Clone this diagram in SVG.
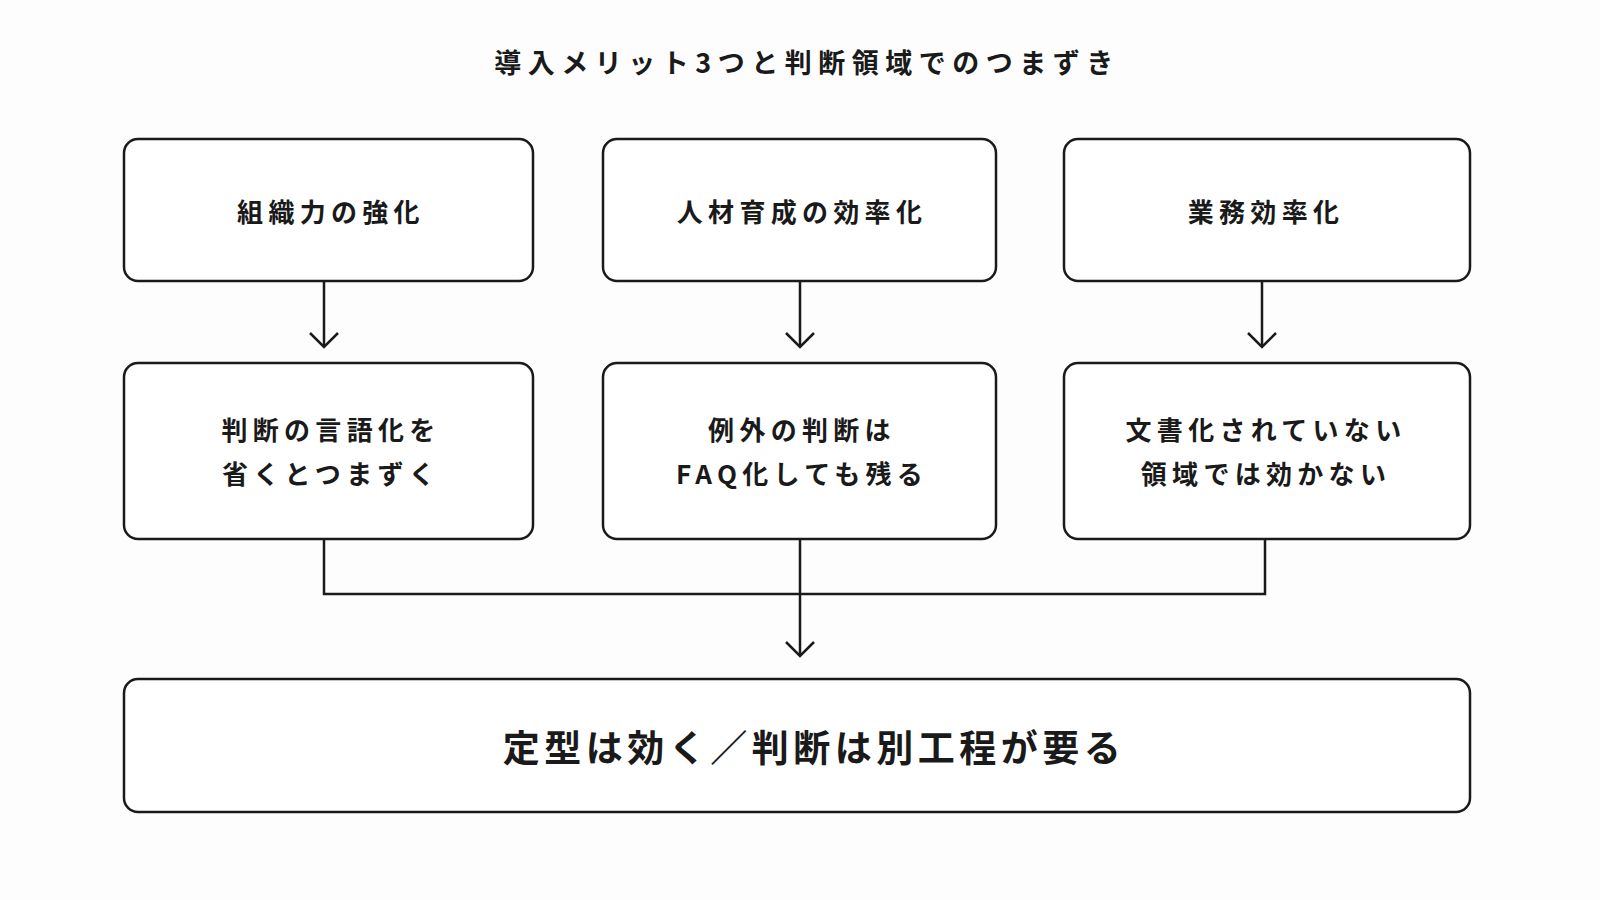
<svg xmlns="http://www.w3.org/2000/svg" width="1600" height="900" viewBox="0 0 1600 900">
<defs>
<style>
.box{fill:#ffffff;stroke:#1a1a1a;stroke-width:2.5}
.t{font-family:"Noto Sans CJK JP","Noto Sans",sans-serif;fill:#1a1a1a;text-anchor:middle;dominant-baseline:central}
.title{font-size:27px;font-weight:700;letter-spacing:6.5px}
.lbl{font-size:26px;font-weight:700;letter-spacing:5.3px}
.big{font-size:37px;font-weight:700;letter-spacing:4.5px}
.line{fill:none;stroke:#1a1a1a;stroke-width:2.5}
.head{fill:none;stroke:#1a1a1a;stroke-width:2.5;stroke-linejoin:miter}
</style>
</defs>
<rect width="1600" height="900" fill="#fdfdfd"/>
<text class="t title" x="807" y="61">導入メリット3つと判断領域でのつまずき</text>

<g id="n1">
<rect class="box" x="124" y="139" width="409" height="142" rx="14"/>
<text class="t lbl" x="331" y="210">組織力の強化</text>
</g>
<g id="n2">
<rect class="box" x="603" y="139" width="393" height="142" rx="14"/>
<text class="t lbl" x="802" y="210">人材育成の効率化</text>
</g>
<g id="n3">
<rect class="box" x="1064" y="139" width="406" height="142" rx="14"/>
<text class="t lbl" x="1266" y="210">業務効率化</text>
</g>
<g id="n4">
<rect class="box" x="124" y="363" width="409" height="176" rx="14"/>
<text class="t lbl" x="331" y="428">判断の言語化を</text>
<text class="t lbl" x="331" y="472">省くとつまずく</text>
</g>
<g id="n5">
<rect class="box" x="603" y="363" width="393" height="176" rx="14"/>
<text class="t lbl" x="802" y="428">例外の判断は</text>
<text class="t lbl" x="802" y="472">FAQ化しても残る</text>
</g>
<g id="n6">
<rect class="box" x="1064" y="363" width="406" height="176" rx="14"/>
<text class="t lbl" x="1266" y="428">文書化されていない</text>
<text class="t lbl" x="1266" y="472">領域では効かない</text>
</g>
<g id="n7">
<rect class="box" x="124" y="679" width="1346" height="133" rx="14"/>
<text class="t big" x="814" y="746">定型は効く／判断は別工程が要る</text>
</g>

<g id="connectors">
<path class="line" d="M324 281 V347"/>
<path class="head" d="M310 333 L324 347 L338 333"/>
<path class="line" d="M800 281 V347"/>
<path class="head" d="M786 333 L800 347 L814 333"/>
<path class="line" d="M1262 281 V347"/>
<path class="head" d="M1248 333 L1262 347 L1276 333"/>
<path class="line" d="M324 539 V594 H1265 V539"/>
<path class="line" d="M800 539 V656"/>
<path class="head" d="M786 642 L800 656 L814 642"/>
</g>
</svg>
